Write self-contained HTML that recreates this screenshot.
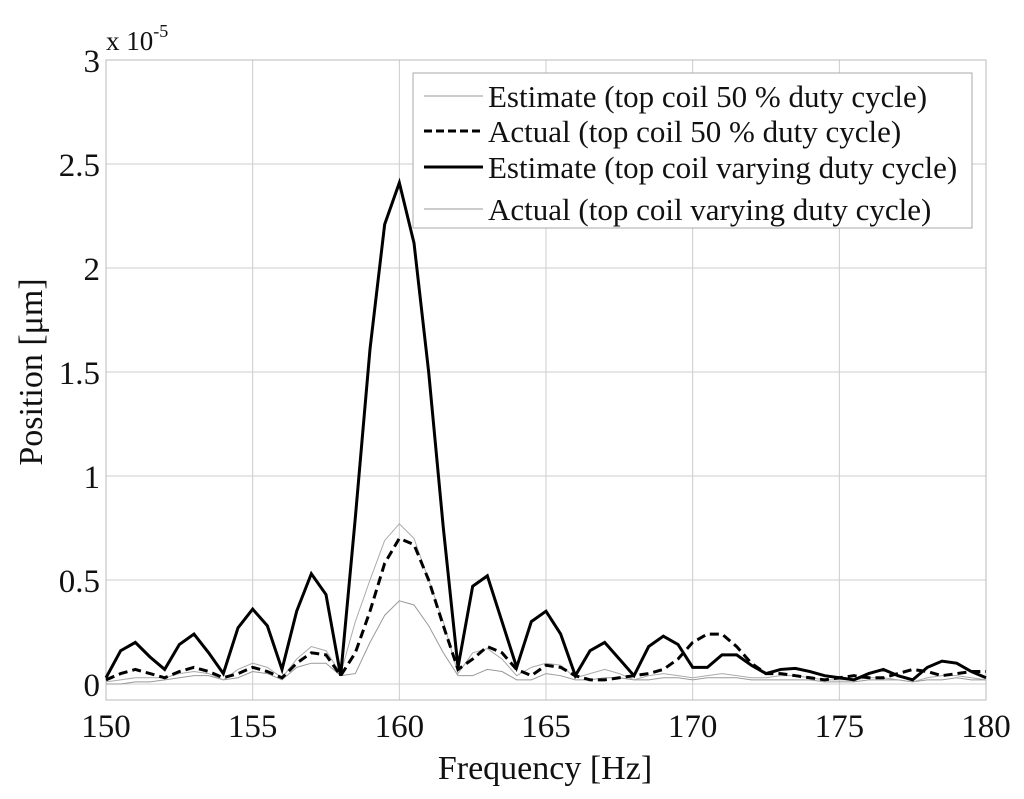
<!DOCTYPE html>
<html><head><meta charset="utf-8"><style>
body{margin:0;background:#fff;}
svg text{font-family:"Liberation Serif",serif;fill:#111;}
</style></head><body>
<svg id="chart" width="1024" height="794" xmlns="http://www.w3.org/2000/svg">
<g id="grid"></g>
<g id="axes"></g>
<g id="series"></g>
<text x="106" y="50" font-size="27">x 10<tspan dy="-13" font-size="18">-5</tspan></text>
<text x="545" y="779" font-size="34" text-anchor="middle">Frequency [Hz]</text>
<text transform="translate(42,372) rotate(-90)" font-size="34" text-anchor="middle">Position [μm]</text>
<g>
<rect x="413" y="73" width="559" height="155" fill="#fff" stroke="#aaa" stroke-width="1"/>
<g><line x1="424" y1="96" x2="483" y2="96" stroke="#999" stroke-width="1"/><text x="488" y="107" font-size="31">Estimate (top coil 50 % duty cycle)</text></g>
<g><line x1="424" y1="131" x2="483" y2="131" stroke="#000" stroke-width="3" stroke-dasharray="8,4"/><text x="488" y="142" font-size="31">Actual (top coil 50 % duty cycle)</text></g>
<g><line x1="424" y1="167" x2="483" y2="167" stroke="#000" stroke-width="3"/><text x="488" y="178" font-size="31">Estimate (top coil varying duty cycle)</text></g>
<g><line x1="424" y1="209" x2="483" y2="209" stroke="#999" stroke-width="1"/><text x="488" y="220" font-size="31">Actual (top coil varying duty cycle)</text></g>
</g>
</svg>
<script>
const xTicks=[150,155,160,165,170,175,180];
const yTicks=[0,0.5,1,1.5,2,2.5,3];
const yTickLabels=["0","0.5","1","1.5","2","2.5","3"];
const freqs=[150,150.5,151,151.5,152,152.5,153,153.5,154,154.5,155,155.5,156,156.5,157,157.5,158,158.5,159,159.5,160,160.5,161,161.5,162,162.5,163,163.5,164,164.5,165,165.5,166,166.5,167,167.5,168,168.5,169,169.5,170,170.5,171,171.5,172,172.5,173,173.5,174,174.5,175,175.5,176,176.5,177,177.5,178,178.5,179,179.5,180];
const estVarying=[0.03,0.16,0.2,0.13,0.07,0.19,0.24,0.15,0.05,0.27,0.36,0.28,0.07,0.35,0.53,0.43,0.04,0.8,1.61,2.21,2.41,2.12,1.5,0.75,0.08,0.47,0.52,0.3,0.08,0.3,0.35,0.24,0.04,0.16,0.2,0.12,0.04,0.18,0.23,0.19,0.08,0.08,0.14,0.14,0.09,0.05,0.07,0.075,0.06,0.04,0.03,0.02,0.05,0.07,0.04,0.02,0.08,0.11,0.1,0.06,0.03];
const actual50=[0.02,0.05,0.07,0.05,0.03,0.06,0.08,0.06,0.03,0.05,0.08,0.06,0.03,0.1,0.15,0.14,0.04,0.15,0.35,0.58,0.7,0.67,0.5,0.28,0.07,0.12,0.18,0.15,0.07,0.04,0.09,0.08,0.04,0.02,0.02,0.03,0.04,0.05,0.07,0.12,0.2,0.24,0.24,0.18,0.1,0.05,0.05,0.04,0.03,0.02,0.03,0.04,0.03,0.03,0.05,0.07,0.06,0.04,0.05,0.06,0.06];
const actualVarying=[0.01,0.02,0.03,0.03,0.03,0.05,0.06,0.05,0.02,0.07,0.1,0.08,0.03,0.12,0.18,0.16,0.05,0.3,0.5,0.69,0.77,0.7,0.5,0.3,0.05,0.15,0.17,0.12,0.04,0.08,0.1,0.09,0.03,0.05,0.07,0.05,0.02,0.04,0.05,0.04,0.03,0.04,0.05,0.04,0.03,0.03,0.04,0.04,0.03,0.02,0.02,0.02,0.03,0.03,0.02,0.01,0.03,0.04,0.04,0.03,0.02];
const est50=[0.0,0.0,0.01,0.01,0.02,0.03,0.04,0.04,0.02,0.03,0.06,0.05,0.02,0.08,0.1,0.1,0.04,0.05,0.2,0.33,0.4,0.38,0.28,0.15,0.04,0.04,0.07,0.06,0.02,0.02,0.05,0.04,0.02,0.02,0.03,0.03,0.02,0.02,0.03,0.03,0.02,0.03,0.03,0.03,0.02,0.02,0.02,0.02,0.02,0.01,0.01,0.01,0.02,0.02,0.02,0.01,0.02,0.02,0.03,0.02,0.02];
const X=v=>106+(v-150)*(880/30);
const Y=v=>684-v*208;
const NS="http://www.w3.org/2000/svg";
function mk(t,a,p){const e=document.createElementNS(NS,t);for(const k in a)e.setAttribute(k,a[k]);p.appendChild(e);return e;}
const grid=document.getElementById('grid'),axes=document.getElementById('axes'),ser=document.getElementById('series');
mk('rect',{x:106,y:60,width:880,height:640,fill:'none',stroke:'#bbb','stroke-width':1},axes);
xTicks.forEach(t=>{
 const l=mk('line',{x1:X(t),y1:60,x2:X(t),y2:700,stroke:'#ccc','stroke-width':1},grid);
 
 
 const tx=mk('text',{x:X(t),y:737,'font-size':33,'text-anchor':'middle'},axes);tx.textContent=t;
 
 
});
yTicks.forEach((t,i)=>{
 const l=mk('line',{x1:106,y1:Y(t),x2:986,y2:Y(t),stroke:'#ccc','stroke-width':1},grid);
 
 
 const tx=mk('text',{x:100,y:Y(t)+12,'font-size':33,'text-anchor':'end'},axes);tx.textContent=yTickLabels[i];
 
 
});
function line(vals,attrs,name){
 const p=mk('polyline',Object.assign({points:vals.map((v,i)=>X(freqs[i])+','+Y(v)).join(' '),fill:'none','stroke-linejoin':'miter'},attrs),ser);
 
 
}
line(est50,{stroke:'#999','stroke-width':1},'series-estimate-50');
line(actualVarying,{stroke:'#aaa','stroke-width':1},'series-actual-varying');
line(actual50,{stroke:'#000','stroke-width':3,'stroke-dasharray':'9,5'},'series-actual-50');
line(estVarying,{stroke:'#000','stroke-width':3},'series-estimate-varying');
</script>
</body></html>
